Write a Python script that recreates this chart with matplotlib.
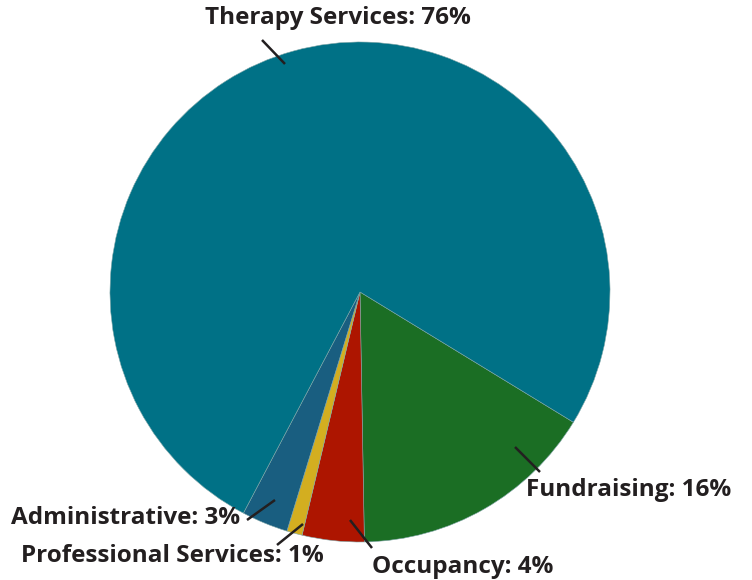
import matplotlib.pyplot as plt

categories = ['Fundraising', 'Occupancy', 'Professional Services', 'Administrative', 'Therapy Services']
shares = [16, 4, 1, 3, 76]
colors = ['#1b6e24', '#ad1500', '#d3ae20', '#195e80', '#007186']

# label anchors in pixel space (x, y from top): text position, leader start, leader end
label_text = {
    'Therapy Services': (205, 18),
    'Fundraising': (526, 490),
    'Occupancy': (372, 567),
    'Professional Services': (21, 556),
    'Administrative': (11, 518),
}
leaders = {
    'Therapy Services': ((285, 64), (262, 40)),
    'Fundraising': ((515, 447), (540, 472)),
    'Occupancy': ((350, 520), (372, 548)),
    'Professional Services': ((303, 524), (277, 545)),
    'Administrative': ((275, 500), (247, 520)),
}

W, H = 752, 580
fig = plt.figure(figsize=(W / 100, H / 100), dpi=100)
ax = fig.add_axes([0, 0, 1, 1])

ax.pie(shares, colors=colors, center=(360, H - 292), radius=250,
       startangle=-31.4, counterclock=False,
       wedgeprops=dict(edgecolor='#7fa6a8', linewidth=0.4))
ax.set_xlim(0, W)
ax.set_ylim(0, H)
ax.set_aspect('equal')
ax.set_axis_off()

for name, val in zip(categories, shares):
    (x0, y0), (x1, y1) = leaders[name]
    ax.plot([x0, x1], [H - y0, H - y1], color='#231f20', lw=1.8, solid_capstyle='butt')
    tx, ty = label_text[name]
    ax.text(tx, H - ty, f'{name}: {val}%', ha='left', va='center',
            fontsize=17.5, fontweight='bold', family='Open Sans', color='#231f20')

fig.savefig('out.png', dpi=100)
